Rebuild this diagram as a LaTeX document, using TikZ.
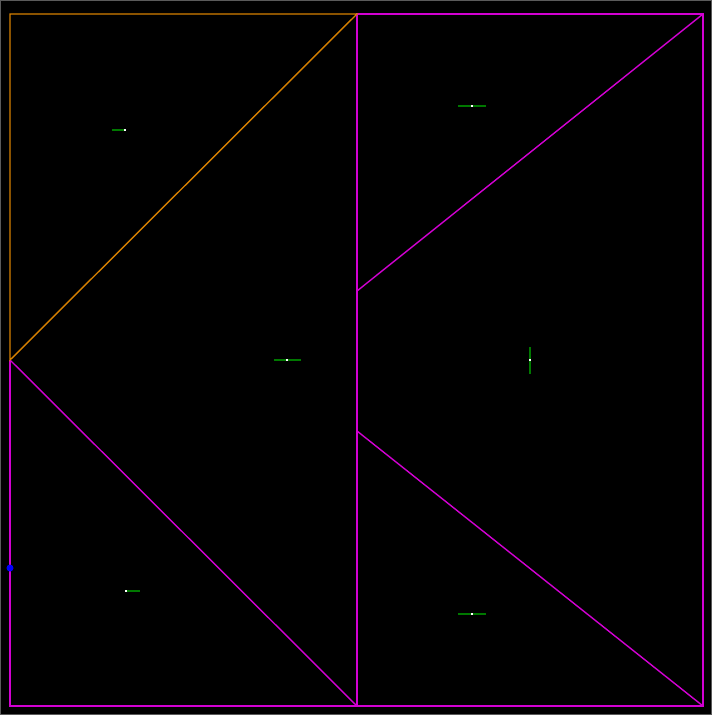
\documentclass[tikz,border=0pt]{standalone}
\usepackage{tikz}
\definecolor{org}{RGB}{214,128,0}
\definecolor{mag}{RGB}{210,0,210}
\definecolor{grn}{RGB}{0,120,0}
\definecolor{frm}{RGB}{90,90,90}
\tikzset{
  edgeO/.style={draw=org,line width=1.4pt},
  edgeM/.style={draw=mag,line width=1.4pt},
  tick/.style={draw=grn,line width=1.2pt},
  ctr/.style={fill=white,inner sep=0pt,minimum size=2.8pt,shape=rectangle},
}
\begin{document}
\begin{tikzpicture}[x=1pt,y=-1pt]
\fill[black] (0,0) rectangle (712,715);
\useasboundingbox (0,0) rectangle (712,715);
\draw[frm,line width=0.6pt] (0.5,0.5) rectangle (711.5,714.5);
% vertices
\coordinate (A) at (10,14);
\coordinate (B) at (357,14);
\coordinate (C) at (703,14);
\coordinate (D) at (10,360);
\coordinate (E) at (10,706);
\coordinate (F) at (357,706);
\coordinate (G) at (703,706);
\coordinate (H) at (357,291);
\coordinate (I) at (357,431);
% magenta edges
\draw[edgeM] (D) -- (E) -- (F) -- (G) -- (C) -- (B) -- (F);
\draw[edgeM] (D) -- (F);
\draw[edgeM] (C) -- (H);
\draw[edgeM] (I) -- (G);
% orange triangle
\draw[edgeO] (D) -- (A) -- (B) -- cycle;
% green ticks and centres
\coordinate (t1a) at (112,130); \coordinate (t1b) at (125,130);
\draw[tick] (t1a) -- (t1b);
\coordinate (t2a) at (274,360); \coordinate (t2b) at (301,360);
\draw[tick] (t2a) -- (t2b);
\coordinate (t3a) at (458,106); \coordinate (t3b) at (486,106);
\draw[tick] (t3a) -- (t3b);
\coordinate (t4a) at (530,347); \coordinate (t4b) at (530,374);
\draw[tick] (t4a) -- (t4b);
\coordinate (t5a) at (126,591); \coordinate (t5b) at (140,591);
\draw[tick] (t5a) -- (t5b);
\coordinate (t6a) at (458,614); \coordinate (t6b) at (486,614);
\draw[tick] (t6a) -- (t6b);
\node[ctr] (c1) at (125,130) {};
\node[ctr] (c2) at (287,360) {};
\node[ctr] (c3) at (472,106) {};
\node[ctr] (c4) at (530,360) {};
\node[ctr] (c5) at (126,591) {};
\node[ctr] (c6) at (472,614) {};
\node[circle,fill=blue,inner sep=0pt,minimum size=7pt] (bd) at (10,568) {};
\end{tikzpicture}
\end{document}
